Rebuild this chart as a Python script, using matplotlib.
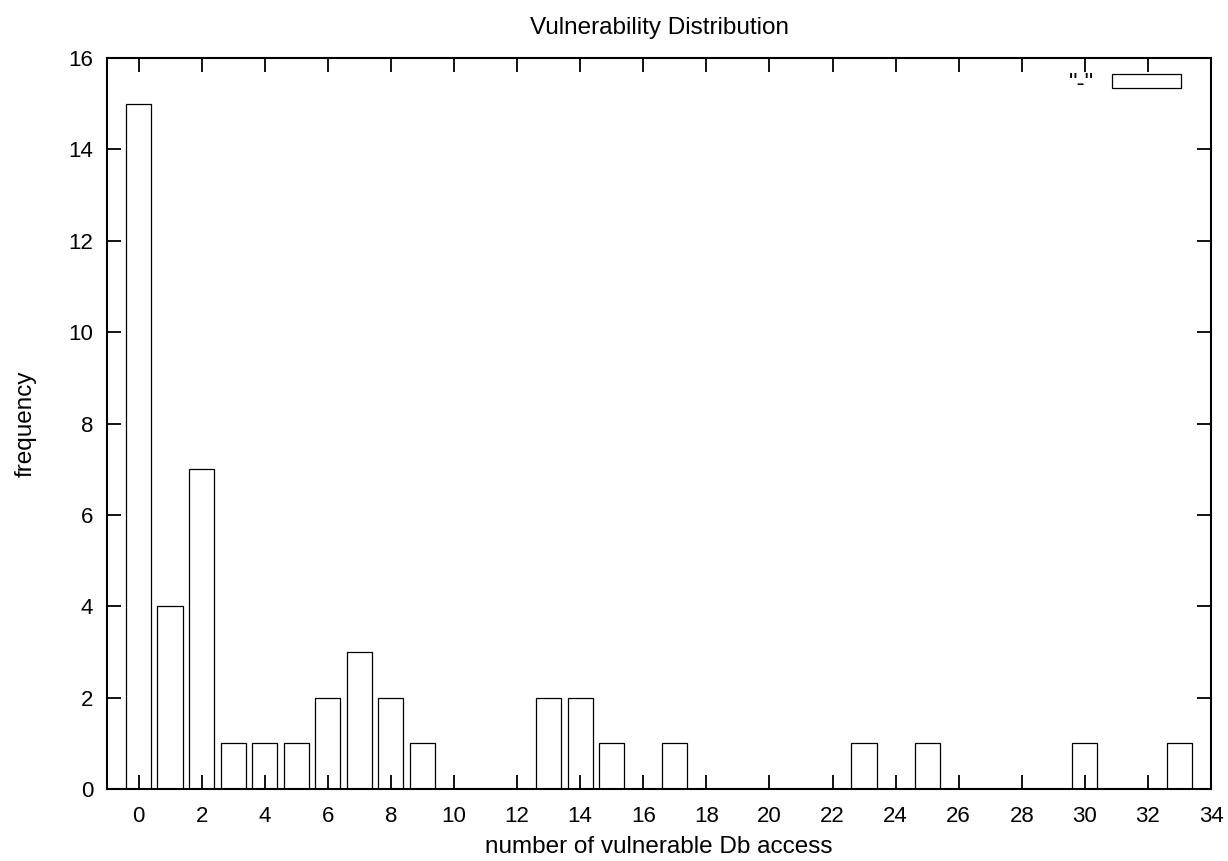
import matplotlib
matplotlib.use("Agg")
from matplotlib import pyplot as plt
from matplotlib.patches import Rectangle

# frequency of each count of vulnerable db accesses
accesses = [0, 1, 2, 3, 4, 5, 6, 7, 8, 9, 13, 14, 15, 17, 23, 25, 30, 33]
frequency = [15, 4, 7, 1, 1, 1, 2, 3, 2, 1, 2, 2, 1, 1, 1, 1, 1, 1]
xticks = list(range(0, 35, 2))
yticks = list(range(0, 17, 2))

plt.rcParams['font.family'] = ['Liberation Sans', 'DejaVu Sans']
fs = 17.5
tick_fs = 16

fig = plt.figure(figsize=(12.28, 8.61), dpi=100)
ax = fig.add_axes([0.0871, 0.0836, 0.8991, 0.849])

ax.bar(accesses, frequency, width=0.8, facecolor="white", edgecolor="black",
       linewidth=0.9, label='"-"')

ax.set_xlim(-1, 34)
ax.set_ylim(0, 16)
ax.set_xticks(xticks)
ax.set_yticks(yticks)
ax.tick_params(direction="in", length=10, width=1.3, top=True, right=True,
               labelsize=tick_fs)
ax.tick_params(axis="x", pad=12)
ax.tick_params(axis="y", pad=10)
for s in ax.spines.values():
    s.set_linewidth(1.5)

ax.set_title("Vulnerability Distribution", fontsize=fs, pad=17.5)
ax.set_xlabel("number of vulnerable Db access", fontsize=fs, labelpad=7)
ax.set_ylabel("frequency", fontsize=fs, labelpad=23)

# key in the top right corner, text left of the sample box
handle = Rectangle((0, 0), 1, 1, facecolor="white", edgecolor="black", linewidth=0.9)
ax.legend([handle], ['"-"'], loc="upper right", bbox_to_anchor=(0.9728, 0.9796),
          frameon=False, markerfirst=False,
          handlelength=2.84, handleheight=0.5, handletextpad=0.75,
          borderaxespad=0, borderpad=0, fontsize=fs)

fig.savefig("out.png", dpi=100)
